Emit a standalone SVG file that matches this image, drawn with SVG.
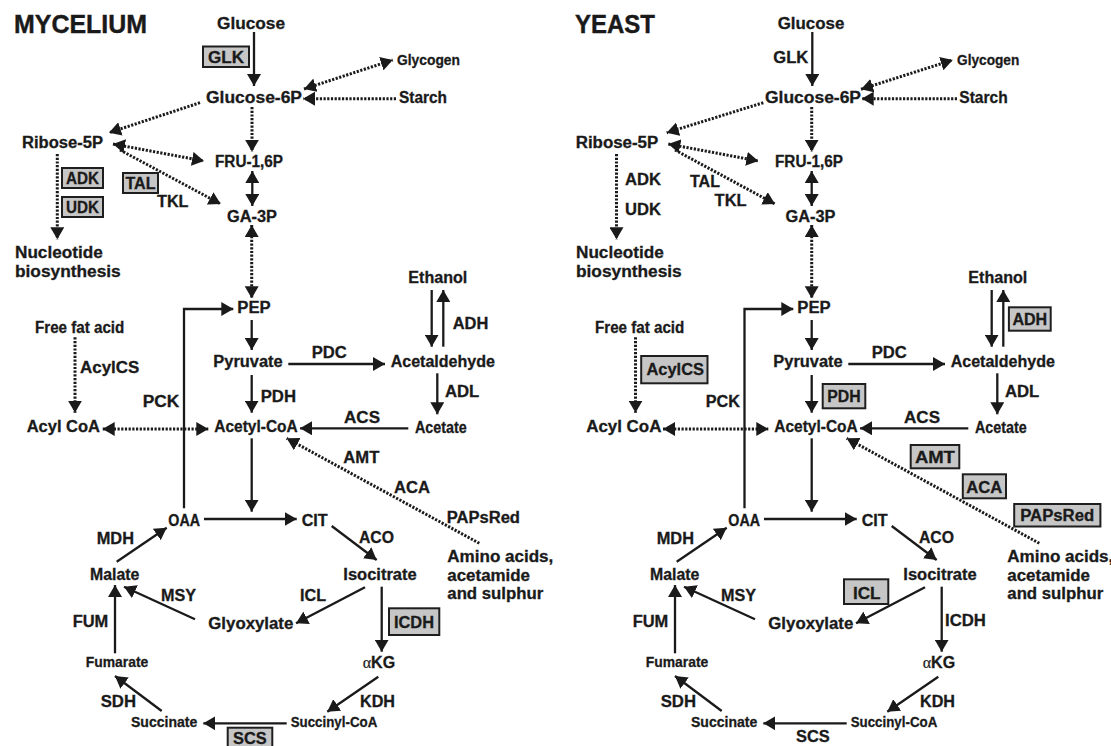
<svg xmlns="http://www.w3.org/2000/svg" width="1111" height="746" viewBox="0 0 1111 746">
<style>
text{font-family:"Liberation Sans",Arial,sans-serif;font-weight:bold;fill:#1a1a1a;font-size:16px;stroke:#1a1a1a;stroke-width:0.3px}
.s15{font-size:15px}.s14{font-size:14.5px}.title{font-size:25px;stroke-width:0.4px}
.box{fill:#c6c6c6;stroke:#1e1e1e;stroke-width:2}
.sol{stroke:#1a1a1a;stroke-width:2.3;fill:none}
.dot{stroke:#1a1a1a;stroke-width:3;fill:none;stroke-dasharray:2.2 1.5}
.a{marker-end:url(#ah)}
.aa{marker-end:url(#ah);marker-start:url(#ah)}
.greek{font-family:"Liberation Serif",serif;font-weight:normal;stroke-width:0.2px}
</style>
<defs>
<marker id="ah" viewBox="0 0 12 14" refX="12" refY="7" markerWidth="12" markerHeight="14" markerUnits="userSpaceOnUse" orient="auto-start-reverse"><path d="M0,0 L12,7 L0,14 z" fill="#1a1a1a"/></marker>
</defs>
<rect width="1111" height="746" fill="#fff"/>

<!-- ================= MYCELIUM ================= -->
<g id="mycelium">
<g id="m-connectors">
<line class="sol a" x1="254" y1="32" x2="254" y2="86"/>
<line class="sol aa" x1="252.3" y1="171" x2="252.3" y2="206"/>
<path class="sol a" d="M184,508.3 V309 H233.3"/>
<line class="sol a" x1="251.7" y1="320" x2="251.7" y2="350"/>
<line class="sol a" x1="251.7" y1="375" x2="251.7" y2="412.7"/>
<line class="sol a" x1="288.3" y1="364" x2="385" y2="364"/>
<line class="sol a" x1="431.7" y1="290" x2="431.7" y2="346.7"/>
<line class="sol a" x1="443.3" y1="346.7" x2="443.3" y2="290"/>
<line class="sol a" x1="437.3" y1="373.3" x2="437.3" y2="414.3"/>
<line class="sol a" x1="408.3" y1="428.3" x2="300" y2="428.3"/>
<line class="sol a" x1="251.7" y1="438.3" x2="251.7" y2="511.7"/>
<line class="sol a" x1="204" y1="519" x2="296.7" y2="519"/>
<line class="sol a" x1="331.7" y1="526" x2="376.7" y2="560"/>
<line class="sol a" x1="365" y1="587.3" x2="296" y2="623.3"/>
<line class="sol a" x1="381.7" y1="586.7" x2="381.7" y2="651.7"/>
<line class="sol a" x1="378.3" y1="676.7" x2="327.3" y2="711.7"/>
<line class="sol a" x1="286.7" y1="723.3" x2="203.3" y2="723.3"/>
<line class="sol a" x1="161.7" y1="711" x2="115" y2="676"/>
<line class="sol a" x1="115" y1="653.3" x2="115" y2="585"/>
<line class="sol a" x1="195" y1="619.3" x2="124" y2="586.7"/>
<line class="sol a" x1="116.7" y1="561.7" x2="166.7" y2="527.7"/>
<line class="dot aa" x1="304" y1="89" x2="392.7" y2="60"/>
<line class="dot a" x1="396" y1="98.7" x2="303" y2="98.7"/>
<line class="dot a" x1="200" y1="102.7" x2="109" y2="132.7"/>
<line class="dot a" x1="252" y1="107" x2="252" y2="151.7"/>
<line class="dot aa" x1="113" y1="144" x2="204" y2="161"/>
<line class="dot a" x1="120" y1="150" x2="220.7" y2="204"/>
<line class="dot a" x1="57.3" y1="154" x2="57.3" y2="239.3"/>
<line class="dot aa" x1="251.7" y1="225" x2="251.7" y2="298.3"/>
<line class="dot a" x1="75" y1="337.3" x2="75" y2="412.7"/>
<line class="dot aa" x1="102.7" y1="429" x2="208.3" y2="429"/>
<line class="dot a" x1="479.3" y1="543.3" x2="286.7" y2="438.3"/>
</g>
<g id="m-title"><text class="title" x="14" y="33" textLength="133" lengthAdjust="spacingAndGlyphs">MYCELIUM</text></g>
<g id="m-glucose"><text x="217" y="29" textLength="68" lengthAdjust="spacingAndGlyphs">Glucose</text></g>
<g id="m-glk"><rect class="box" x="203" y="46.5" width="46" height="20.5"/><text x="208" y="62.8" textLength="36" lengthAdjust="spacingAndGlyphs">GLK</text></g>
<g id="m-glycogen"><text class="s15" x="397" y="65" textLength="63" lengthAdjust="spacingAndGlyphs">Glycogen</text></g>
<g id="m-g6p"><text x="206" y="103" textLength="96" lengthAdjust="spacingAndGlyphs">Glucose-6P</text></g>
<g id="m-starch"><text x="399" y="103" textLength="48" lengthAdjust="spacingAndGlyphs">Starch</text></g>
<g id="m-ribose"><text x="22" y="148" textLength="81" lengthAdjust="spacingAndGlyphs">Ribose-5P</text></g>
<g id="m-fru"><text x="215" y="167" textLength="68" lengthAdjust="spacingAndGlyphs">FRU-1,6P</text></g>
<g id="m-ga3p"><text x="227" y="221.5" textLength="50" lengthAdjust="spacingAndGlyphs">GA-3P</text></g>
<g id="m-adk"><rect class="box" x="62" y="168" width="41" height="20"/><text x="66" y="184.3" textLength="33" lengthAdjust="spacingAndGlyphs">ADK</text></g>
<g id="m-udk"><rect class="box" x="62" y="197" width="41" height="20"/><text x="66" y="213.3" textLength="33" lengthAdjust="spacingAndGlyphs">UDK</text></g>
<g id="m-tal"><rect class="box" x="123" y="173" width="35" height="20"/><text x="125.5" y="189.3" textLength="30" lengthAdjust="spacingAndGlyphs">TAL</text></g>
<g id="m-tkl"><text x="157" y="206.7" textLength="31.5" lengthAdjust="spacingAndGlyphs">TKL</text></g>
<g id="m-nucleotide"><text x="15" y="258.3" textLength="87.7" lengthAdjust="spacingAndGlyphs">Nucleotide</text><text x="15" y="276.7" textLength="105.7" lengthAdjust="spacingAndGlyphs">biosynthesis</text></g>
<g id="m-pep"><text x="237.3" y="313.3" textLength="33.4" lengthAdjust="spacingAndGlyphs">PEP</text></g>
<g id="m-pyruvate"><text x="213.3" y="367.3" textLength="69.4" lengthAdjust="spacingAndGlyphs">Pyruvate</text></g>
<g id="m-pdh"><text x="260.7" y="402.3" textLength="35.3" lengthAdjust="spacingAndGlyphs">PDH</text></g>
<g id="m-acetylcoa"><text x="214.3" y="431.7" textLength="83.4" lengthAdjust="spacingAndGlyphs">Acetyl-CoA</text></g>
<g id="m-acylcoa"><text x="26.7" y="431.7" textLength="73.3" lengthAdjust="spacingAndGlyphs">Acyl CoA</text></g>
<g id="m-ffa"><text x="35" y="333.3" textLength="89.3" lengthAdjust="spacingAndGlyphs">Free fat acid</text></g>
<g id="m-acylcs"><text x="80" y="372.7" textLength="59.3" lengthAdjust="spacingAndGlyphs">AcylCS</text></g>
<g id="m-pck"><text x="142.7" y="406.7" textLength="36.6" lengthAdjust="spacingAndGlyphs">PCK</text></g>
<g id="m-pdc"><text x="311.7" y="358.3" textLength="35" lengthAdjust="spacingAndGlyphs">PDC</text></g>
<g id="m-acetaldehyde"><text x="390.7" y="367.3" textLength="104.3" lengthAdjust="spacingAndGlyphs">Acetaldehyde</text></g>
<g id="m-ethanol"><text x="408.3" y="283.3" textLength="59" lengthAdjust="spacingAndGlyphs">Ethanol</text></g>
<g id="m-adh"><text x="452.7" y="329.3" textLength="35.6" lengthAdjust="spacingAndGlyphs">ADH</text></g>
<g id="m-adl"><text x="445" y="397.3" textLength="34.3" lengthAdjust="spacingAndGlyphs">ADL</text></g>
<g id="m-acetate"><text x="415" y="433" textLength="51.7" lengthAdjust="spacingAndGlyphs">Acetate</text></g>
<g id="m-acs"><text x="344" y="422.7" textLength="36" lengthAdjust="spacingAndGlyphs">ACS</text></g>
<g id="m-amt"><text x="343.3" y="463.3" textLength="36" lengthAdjust="spacingAndGlyphs">AMT</text></g>
<g id="m-aca"><text x="394" y="492.7" textLength="36" lengthAdjust="spacingAndGlyphs">ACA</text></g>
<g id="m-papsred"><text x="446.7" y="522.7" textLength="73.3" lengthAdjust="spacingAndGlyphs">PAPsRed</text></g>
<g id="m-amino"><text x="447.3" y="562.3" textLength="106" lengthAdjust="spacingAndGlyphs">Amino acids,</text><text x="447.3" y="580.7" textLength="82.7" lengthAdjust="spacingAndGlyphs">acetamide</text><text x="447.3" y="599" textLength="96" lengthAdjust="spacingAndGlyphs">and sulphur</text></g>
<g id="m-oaa"><text x="168.3" y="526" textLength="31.7" lengthAdjust="spacingAndGlyphs">OAA</text></g>
<g id="m-cit"><text x="301.7" y="526" textLength="26" lengthAdjust="spacingAndGlyphs">CIT</text></g>
<g id="m-aco"><text x="359" y="542.7" textLength="35" lengthAdjust="spacingAndGlyphs">ACO</text></g>
<g id="m-isocitrate"><text x="343.3" y="580" textLength="73.4" lengthAdjust="spacingAndGlyphs">Isocitrate</text></g>
<g id="m-icl"><text x="300" y="600.7" textLength="26" lengthAdjust="spacingAndGlyphs">ICL</text></g>
<g id="m-glyoxylate"><text x="208.3" y="629" textLength="85" lengthAdjust="spacingAndGlyphs">Glyoxylate</text></g>
<g id="m-icdh"><rect class="box" x="389" y="608.3" width="50.3" height="26.7"/><text x="394" y="628" textLength="40" lengthAdjust="spacingAndGlyphs">ICDH</text></g>
<g id="m-akg"><text x="362.7" y="668.3"><tspan class="greek">α</tspan>KG</text></g>
<g id="m-kdh"><text x="360" y="706.7" textLength="35" lengthAdjust="spacingAndGlyphs">KDH</text></g>
<g id="m-succinylcoa"><text class="s15" x="290.7" y="727.3" textLength="86.6" lengthAdjust="spacingAndGlyphs">Succinyl-CoA</text></g>
<g id="m-scs"><rect class="box" x="227.7" y="727.7" width="44.6" height="20"/><text x="233" y="744.3" textLength="33.7" lengthAdjust="spacingAndGlyphs">SCS</text></g>
<g id="m-succinate"><text class="s15" x="131" y="727.3" textLength="66.3" lengthAdjust="spacingAndGlyphs">Succinate</text></g>
<g id="m-sdh"><text x="100.7" y="706.7" textLength="35.3" lengthAdjust="spacingAndGlyphs">SDH</text></g>
<g id="m-fumarate"><text class="s15" x="85.7" y="667.3" textLength="62.6" lengthAdjust="spacingAndGlyphs">Fumarate</text></g>
<g id="m-fum"><text x="72.7" y="627.3" textLength="35.6" lengthAdjust="spacingAndGlyphs">FUM</text></g>
<g id="m-malate"><text x="90" y="580" textLength="49.3" lengthAdjust="spacingAndGlyphs">Malate</text></g>
<g id="m-msy"><text x="161" y="600.7" textLength="35" lengthAdjust="spacingAndGlyphs">MSY</text></g>
<g id="m-mdh"><text x="96.7" y="544" textLength="37.3" lengthAdjust="spacingAndGlyphs">MDH</text></g>
</g>

<!-- ================= YEAST ================= -->
<g id="yeast" transform="translate(560,0)">
<g id="y-connectors">
<line class="sol a" x1="252.3" y1="32" x2="252.3" y2="86"/>
<line class="sol aa" x1="251.7" y1="171" x2="251.7" y2="206"/>
<path class="sol a" d="M184.5,508.3 V309 H233.3"/>
<line class="sol a" x1="251.7" y1="320" x2="251.7" y2="350"/>
<line class="sol a" x1="251.7" y1="375" x2="251.7" y2="412.7"/>
<line class="sol a" x1="288.3" y1="364" x2="385" y2="364"/>
<line class="sol a" x1="431.7" y1="290" x2="431.7" y2="346.7"/>
<line class="sol a" x1="443.3" y1="346.7" x2="443.3" y2="290"/>
<line class="sol a" x1="437.3" y1="373.3" x2="437.3" y2="414.3"/>
<line class="sol a" x1="408.3" y1="428.3" x2="300" y2="428.3"/>
<line class="sol a" x1="251.7" y1="438.3" x2="251.7" y2="511.7"/>
<line class="sol a" x1="204" y1="519" x2="296.7" y2="519"/>
<line class="sol a" x1="331.7" y1="526" x2="376.7" y2="560"/>
<line class="sol a" x1="365" y1="587.3" x2="296" y2="623.3"/>
<line class="sol a" x1="381.7" y1="586.7" x2="381.7" y2="651.7"/>
<line class="sol a" x1="378.3" y1="676.7" x2="327.3" y2="711.7"/>
<line class="sol a" x1="286.7" y1="723.3" x2="203.3" y2="723.3"/>
<line class="sol a" x1="161.7" y1="711" x2="115" y2="676"/>
<line class="sol a" x1="115" y1="653.3" x2="115" y2="585"/>
<line class="sol a" x1="195" y1="619.3" x2="124" y2="586.7"/>
<line class="sol a" x1="116.7" y1="561.7" x2="166.7" y2="527.7"/>
<line class="dot aa" x1="301" y1="89.3" x2="392.7" y2="60"/>
<line class="dot a" x1="397" y1="98.7" x2="301.7" y2="98.7"/>
<line class="dot a" x1="203.3" y1="102.7" x2="106.7" y2="132.7"/>
<line class="dot a" x1="251.7" y1="107" x2="251.7" y2="151.7"/>
<line class="dot aa" x1="108.3" y1="144" x2="198.3" y2="161"/>
<line class="dot a" x1="115" y1="150" x2="215" y2="204"/>
<line class="dot a" x1="56.5" y1="154" x2="56.5" y2="239.3"/>
<line class="dot aa" x1="251.7" y1="225" x2="251.7" y2="298.3"/>
<line class="dot a" x1="75.5" y1="337.3" x2="75.5" y2="412.7"/>
<line class="dot aa" x1="103" y1="429" x2="208.3" y2="429"/>
<line class="dot a" x1="479.3" y1="543.3" x2="286.7" y2="438.3"/>
</g>
<g id="y-title"><text class="title" x="15" y="33" textLength="80" lengthAdjust="spacingAndGlyphs">YEAST</text></g>
<g id="y-glucose"><text x="217.7" y="29" textLength="66.6" lengthAdjust="spacingAndGlyphs">Glucose</text></g>
<g id="y-glk"><text x="213.3" y="63.3" textLength="35" lengthAdjust="spacingAndGlyphs">GLK</text></g>
<g id="y-glycogen"><text class="s15" x="397" y="65" textLength="62.3" lengthAdjust="spacingAndGlyphs">Glycogen</text></g>
<g id="y-g6p"><text x="205" y="103" textLength="96" lengthAdjust="spacingAndGlyphs">Glucose-6P</text></g>
<g id="y-starch"><text x="399.3" y="103" textLength="48.4" lengthAdjust="spacingAndGlyphs">Starch</text></g>
<g id="y-ribose"><text x="15.7" y="148" textLength="82.6" lengthAdjust="spacingAndGlyphs">Ribose-5P</text></g>
<g id="y-fru"><text x="215" y="167" textLength="68" lengthAdjust="spacingAndGlyphs">FRU-1,6P</text></g>
<g id="y-ga3p"><text x="225.5" y="221.5" textLength="50" lengthAdjust="spacingAndGlyphs">GA-3P</text></g>
<g id="y-adk"><text x="65" y="185" textLength="36" lengthAdjust="spacingAndGlyphs">ADK</text></g>
<g id="y-udk"><text x="65" y="215" textLength="36" lengthAdjust="spacingAndGlyphs">UDK</text></g>
<g id="y-tal"><text x="130" y="186.7" textLength="30" lengthAdjust="spacingAndGlyphs">TAL</text></g>
<g id="y-tkl"><text x="154.6" y="206" textLength="32" lengthAdjust="spacingAndGlyphs">TKL</text></g>
<g id="y-nucleotide"><text x="16" y="258.3" textLength="87.7" lengthAdjust="spacingAndGlyphs">Nucleotide</text><text x="16" y="276.7" textLength="105.7" lengthAdjust="spacingAndGlyphs">biosynthesis</text></g>
<g id="y-pep"><text x="237.3" y="313.3" textLength="33.4" lengthAdjust="spacingAndGlyphs">PEP</text></g>
<g id="y-pyruvate"><text x="213.3" y="367.3" textLength="69.4" lengthAdjust="spacingAndGlyphs">Pyruvate</text></g>
<g id="y-pdh"><rect class="box" x="262.7" y="384" width="42.6" height="24.3"/><text x="267.3" y="401.7" textLength="33.4" lengthAdjust="spacingAndGlyphs">PDH</text></g>
<g id="y-acetylcoa"><text x="214.3" y="431.7" textLength="83.4" lengthAdjust="spacingAndGlyphs">Acetyl-CoA</text></g>
<g id="y-acylcoa"><text x="26.2" y="431.7" textLength="75.2" lengthAdjust="spacingAndGlyphs">Acyl CoA</text></g>
<g id="y-ffa"><text x="35" y="333.3" textLength="89.3" lengthAdjust="spacingAndGlyphs">Free fat acid</text></g>
<g id="y-acylcs"><rect class="box" x="81.2" y="356" width="66.3" height="27.3"/><text x="86.5" y="375" textLength="57.5" lengthAdjust="spacingAndGlyphs">AcylCS</text></g>
<g id="y-pck"><text x="145.7" y="406.7" textLength="34.3" lengthAdjust="spacingAndGlyphs">PCK</text></g>
<g id="y-pdc"><text x="311.7" y="358.3" textLength="35" lengthAdjust="spacingAndGlyphs">PDC</text></g>
<g id="y-acetaldehyde"><text x="390.7" y="367.3" textLength="104.3" lengthAdjust="spacingAndGlyphs">Acetaldehyde</text></g>
<g id="y-ethanol"><text x="408.3" y="283.3" textLength="59" lengthAdjust="spacingAndGlyphs">Ethanol</text></g>
<g id="y-adh"><rect class="box" x="448.9" y="307.3" width="41.8" height="23.4"/><text x="452.4" y="325" textLength="34.8" lengthAdjust="spacingAndGlyphs">ADH</text></g>
<g id="y-adl"><text x="445" y="397.3" textLength="34.3" lengthAdjust="spacingAndGlyphs">ADL</text></g>
<g id="y-acetate"><text x="415" y="433" textLength="51.7" lengthAdjust="spacingAndGlyphs">Acetate</text></g>
<g id="y-acs"><text x="344" y="422.7" textLength="36" lengthAdjust="spacingAndGlyphs">ACS</text></g>
<g id="y-amt"><rect class="box" x="350.7" y="445" width="48.6" height="23.3"/><text x="354.9" y="463" textLength="40" lengthAdjust="spacingAndGlyphs">AMT</text></g>
<g id="y-aca"><rect class="box" x="402.8" y="474.3" width="43.2" height="24"/><text x="406.3" y="493" textLength="36" lengthAdjust="spacingAndGlyphs">ACA</text></g>
<g id="y-papsred"><rect class="box" x="454.2" y="504" width="86.2" height="22.5"/><text x="460.2" y="520.5" textLength="74" lengthAdjust="spacingAndGlyphs">PAPsRed</text></g>
<g id="y-amino"><text x="447.3" y="562.3" textLength="106" lengthAdjust="spacingAndGlyphs">Amino acids,</text><text x="447.3" y="580.7" textLength="82.7" lengthAdjust="spacingAndGlyphs">acetamide</text><text x="447.3" y="599" textLength="96" lengthAdjust="spacingAndGlyphs">and sulphur</text></g>
<g id="y-oaa"><text x="168.3" y="526" textLength="31.7" lengthAdjust="spacingAndGlyphs">OAA</text></g>
<g id="y-cit"><text x="301.7" y="526" textLength="26" lengthAdjust="spacingAndGlyphs">CIT</text></g>
<g id="y-aco"><text x="359" y="542.7" textLength="35" lengthAdjust="spacingAndGlyphs">ACO</text></g>
<g id="y-isocitrate"><text x="343.3" y="580" textLength="73.4" lengthAdjust="spacingAndGlyphs">Isocitrate</text></g>
<g id="y-icl"><rect class="box" x="284" y="579.3" width="44.3" height="24.7"/><text x="292.9" y="598.5" textLength="27.6" lengthAdjust="spacingAndGlyphs">ICL</text></g>
<g id="y-glyoxylate"><text x="208.3" y="629" textLength="85" lengthAdjust="spacingAndGlyphs">Glyoxylate</text></g>
<g id="y-icdh"><text x="385" y="625.7" textLength="40.8" lengthAdjust="spacingAndGlyphs">ICDH</text></g>
<g id="y-akg"><text x="362.7" y="668.3"><tspan class="greek">α</tspan>KG</text></g>
<g id="y-kdh"><text x="360" y="706.7" textLength="35" lengthAdjust="spacingAndGlyphs">KDH</text></g>
<g id="y-succinylcoa"><text class="s15" x="290.7" y="727.3" textLength="86.6" lengthAdjust="spacingAndGlyphs">Succinyl-CoA</text></g>
<g id="y-scs"><text x="236" y="741.7" textLength="33.8" lengthAdjust="spacingAndGlyphs">SCS</text></g>
<g id="y-succinate"><text class="s15" x="131" y="727.3" textLength="66.3" lengthAdjust="spacingAndGlyphs">Succinate</text></g>
<g id="y-sdh"><text x="100.7" y="706.7" textLength="35.3" lengthAdjust="spacingAndGlyphs">SDH</text></g>
<g id="y-fumarate"><text class="s15" x="85.7" y="667.3" textLength="62.6" lengthAdjust="spacingAndGlyphs">Fumarate</text></g>
<g id="y-fum"><text x="72.7" y="627.3" textLength="35.6" lengthAdjust="spacingAndGlyphs">FUM</text></g>
<g id="y-malate"><text x="90" y="580" textLength="49.3" lengthAdjust="spacingAndGlyphs">Malate</text></g>
<g id="y-msy"><text x="161" y="600.7" textLength="35" lengthAdjust="spacingAndGlyphs">MSY</text></g>
<g id="y-mdh"><text x="96.7" y="544" textLength="37.3" lengthAdjust="spacingAndGlyphs">MDH</text></g>
</g>
</svg>
